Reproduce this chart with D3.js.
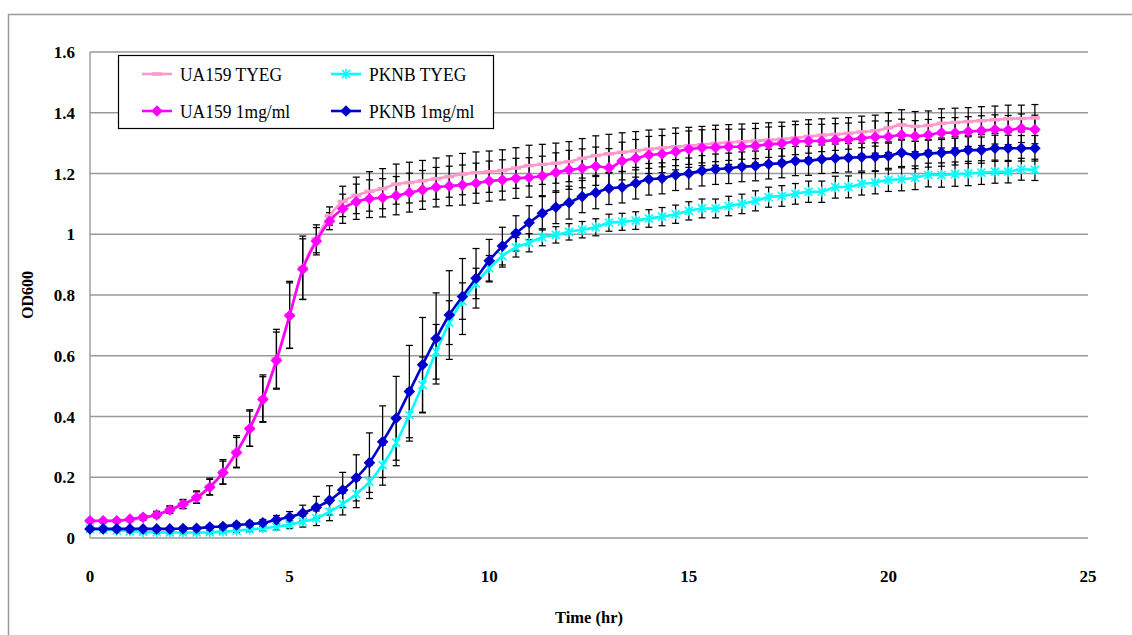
<!DOCTYPE html>
<html><head><meta charset="utf-8">
<script src="https://cdn.jsdelivr.net/npm/d3@7"></script>
<style>html,body{margin:0;padding:0;background:#fff;}svg{display:block;}text{font-family:"Liberation Serif",serif;}</style>
</head><body>
<svg id="c" width="1132" height="635"></svg>
<script>
const times = [0,0.33,0.67,1,1.33,1.67,2,2.33,2.67,3,3.33,3.67,4,4.33,4.67,5,5.33,5.67,6,6.33,6.67,7,7.33,7.67,8,8.33,8.67,9,9.33,9.67,10,10.33,10.67,11,11.33,11.67,12,12.33,12.67,13,13.33,13.67,14,14.33,14.67,15,15.33,15.67,16,16.33,16.67,17,17.33,17.67,18,18.33,18.67,19,19.33,19.67,20,20.33,20.67,21,21.33,21.67,22,22.33,22.67,23,23.33,23.67];

const seriesNames = ["UA159 TYEG","PKNB TYEG","UA159 1mg/ml","PKNB 1mg/ml"];

const ua159TYEG = [.055,.055,.056,.06,.067,.078,.094,.112,.135,.17,.218,.285,.362,.46,.59,.735,.89,.985,
1.06,1.108,1.128,1.141,1.15,1.165,1.17,1.176,1.183,1.19,1.198,1.203,1.206,1.21,1.218,1.226,1.23,1.234,1.239,1.25,1.259,1.265,1.27,1.275,1.28,1.284,1.288,1.291,1.295,1.299,1.302,1.305,1.307,1.31,1.313,1.317,1.322,1.326,1.329,1.332,1.337,1.341,1.35,1.36,1.355,1.358,1.365,1.368,1.371,1.374,1.377,1.38,1.381,1.383];

const pknbTYEG = [.03,.028,.025,.022,.02,.019,.018,.018,.018,.019,.021,.024,.028,.032,.037,.044,.054,.065,
.087,.112,.145,.185,.24,.314,.405,.504,.613,.709,.78,.838,.888,.928,.957,.972,.99,.998,1.008,1.015,1.023,1.038,1.041,1.045,1.052,1.058,1.066,1.077,1.085,1.085,1.093,1.1,1.11,1.122,1.126,1.133,1.14,1.14,1.155,1.156,1.166,1.17,1.179,1.181,1.186,1.195,1.195,1.198,1.2,1.203,1.206,1.206,1.214,1.212];

const ua159Drug = [.057,.057,.057,.062,.068,.076,.092,.111,.133,.167,.215,.281,.36,.456,.584,.732,.885,.977,
1.043,1.084,1.107,1.117,1.12,1.127,1.137,1.146,1.155,1.159,1.162,1.168,1.175,1.179,1.184,1.187,1.192,1.203,1.212,1.217,
1.224,1.219,1.241,1.25,1.261,1.264,1.272,1.28,1.285,1.286,1.288,1.288,1.291,1.296,1.299,1.305,1.307,1.307,1.31,1.312,1.316,1.32,1.321,1.327,1.323,1.327,1.334,1.334,1.338,1.341,1.345,1.343,1.349,1.345];

const pknbDrug = [.03,.03,.03,.03,.03,.03,.03,.031,.032,.036,.038,.043,.046,.05,.06,.069,.082,.101,.124,
.158,.198,.248,.317,.394,.482,.57,.657,.734,.795,.855,.913,.961,1.003,1.038,1.069,1.089,1.104,1.124,1.137,1.151,1.155,1.168,1.181,1.184,1.195,1.2,1.209,1.214,1.217,1.222,1.225,1.231,1.234,1.241,1.242,1.247,1.25,1.252,1.254,1.255,1.258,1.268,1.261,1.266,1.268,1.272,1.277,1.277,1.283,1.283,1.283,1.283];

const ua159TYEGErr = [.005,.005,.005,.006,.008,.01,
.012,.015,.02,.027,.04,.052,.06,.077,.097,.11,.104,.046,.03,.05,.06,.065,
.066,.066,.067,.067,.068,.068,.068,.068,.068,.068,.067,.067,.066,.066,.066,.065,.065,.064,.064,.063,.063,.062,.062,.061,
.06,.06,.059,.058,.058,.057,.056,.055,.055,.054,.053,.052,.052,.051,.05,.05,.049,.048,.048,.047,.046,.046,.045,.045,.044,.044];

const pknbTYEGErr = [.004,.004,.004,.004,.004,.004,.004,.004,.004,.005,.005,.006,.007,.008,.01,
.013,.018,.024,.03,.036,.045,.055,.066,.076,.086,.092,.09,.072,.06,.05,.042,.036,.032,.03,.028,
.027,.027,.027,.028,.028,.028,.029,.029,.03,.03,.03,.031,.031,.032,.032,.033,.033,.034,.034,.035,.035,.036,.036,.037,.037,.038,.038,.039,.039,.04,.04,.04,.039,.038,.037,.036,.035];

const ua159DrugErr = [.004,.004,.005,.005,.007,.009,
.011,.014,.019,.026,.038,.05,.058,.075,.094,.108,.1,.045,.028,.048,.058,.062,
.063,.063,.064,.064,.065,.065,.066,.066,.066,.066,.066,.065,.065,.065,.064,.064,.063,.063,.062,.062,.061,.061,.06,.06,
.059,.059,.058,.058,.057,.057,.056,.056,.055,.055,.054,.054,.053,.053,.052,.052,.051,.051,.05,.05,.049,.049,.048,.048,.047,.047];

const pknbDrugErr = [.004,.004,.004,.004,.004,.004,.004,.005,.005,.006,.007,.008,.009,
.011,.014,.018,.026,.036,.048,.058,.076,.098,.118,.138,.152,.156,.15,.146,.125,.098,.07,.062,.058,.056,.055,.054,
.054,.053,.053,.053,.052,.052,.052,.051,.051,.051,.05,.05,.05,.049,.049,.049,.048,.048,.048,.047,.047,.047,.046,.046,.046,.045,.045,.045,.044,.044,.044,.043,.043,.043,.042,.042];

const xTicks = [0,5,10,15,20,25];
const yTicks = [0,0.2,0.4,0.6,0.8,1,1.2,1.4,1.6];
const yTickLabels = ["0","0.2","0.4","0.6","0.8","1","1.2","1.4","1.6"];

const svg = d3.select("#c");
const L = 90, R = 1088, T = 52, B = 538;
const x = d3.scaleLinear().domain([0,25]).range([L,R]);
const y = d3.scaleLinear().domain([0,1.6]).range([B,T]);

// outer frame
svg.append("rect").attr("x",8.5).attr("y",14.5).attr("width",1140).attr("height",640)
  .attr("fill","none").attr("stroke","#9a9a9a").attr("stroke-width",1.5);

// gridlines
svg.append("g").selectAll("line").data(yTicks.filter(d=>d>0)).join("line")
  .attr("x1",L).attr("x2",R).attr("y1",d=>y(d)).attr("y2",d=>y(d))
  .attr("stroke","#999").attr("stroke-width",1.4);
svg.append("line").attr("x1",L).attr("x2",R).attr("y1",B).attr("y2",B).attr("stroke","#999").attr("stroke-width",1.4);
svg.append("line").attr("x1",L).attr("x2",L).attr("y1",T).attr("y2",B).attr("stroke","#999").attr("stroke-width",1.4);

// tick labels
svg.append("g").selectAll("text").data(yTicks).join("text")
  .attr("x",75).attr("y",d=>y(d)+6).attr("text-anchor","end")
  .attr("font-weight","bold").attr("font-size",17)
  .text((d,i)=>yTickLabels[i]);
svg.append("g").selectAll("text").data(xTicks).join("text")
  .attr("x",d=>x(d)).attr("y",582).attr("text-anchor","middle")
  .attr("font-weight","bold").attr("font-size",17)
  .text(d=>d);
svg.append("text").attr("x",(L+R)/2).attr("y",623).attr("text-anchor","middle")
  .attr("font-weight","bold").attr("font-size",16.5).text("Time (hr)");
svg.append("text").attr("transform",`translate(33,${(T+B)/2}) rotate(-90)`).attr("text-anchor","middle")
  .attr("font-weight","bold").attr("font-size",16).text("OD600");

const series = [
  {name:seriesNames[0], v:ua159TYEG, e:ua159TYEGErr, color:"#FF99CC", marker:"dash"},
  {name:seriesNames[1], v:pknbTYEG, e:pknbTYEGErr, color:"#00FFFF", marker:"star"},
  {name:seriesNames[2], v:ua159Drug, e:ua159DrugErr, color:"#FF00FF", marker:"diamond"},
  {name:seriesNames[3], v:pknbDrug, e:pknbDrugErr, color:"#0000CC", marker:"diamond"}
];

// error bars
const eg = svg.append("g").attr("stroke","#000").attr("stroke-width",1.25);
series.forEach(s=>{
  const pts = times.map((t,i)=>({t, v:s.v[i], e:s.e[i]}));
  const g = eg.append("g");
  g.selectAll("line.v").data(pts).join("line").attr("class","v")
    .attr("x1",d=>x(d.t)).attr("x2",d=>x(d.t)).attr("y1",d=>y(d.v+d.e)).attr("y2",d=>y(d.v-d.e));
  g.selectAll("line.t").data(pts).join("line").attr("class","t")
    .attr("x1",d=>x(d.t)-3.5).attr("x2",d=>x(d.t)+3.5).attr("y1",d=>y(d.v+d.e)).attr("y2",d=>y(d.v+d.e));
  g.selectAll("line.b").data(pts).join("line").attr("class","b")
    .attr("x1",d=>x(d.t)-3.5).attr("x2",d=>x(d.t)+3.5).attr("y1",d=>y(d.v-d.e)).attr("y2",d=>y(d.v-d.e));
});

function drawMarker(g, type, color, cx, cy){
  if(type==="diamond"){
    g.append("path").attr("d",`M${cx},${cy-5.8}L${cx+5.8},${cy}L${cx},${cy+5.8}L${cx-5.8},${cy}Z`).attr("fill",color);
  } else if(type==="star"){
    const r=4;
    g.append("path").attr("d",`M${cx-r},${cy-r}L${cx+r},${cy+r}M${cx-r},${cy+r}L${cx+r},${cy-r}M${cx},${cy-r-1}L${cx},${cy+r+1}`)
      .attr("stroke",color).attr("stroke-width",1.6).attr("fill","none");
  } else {
    g.append("path").attr("d",`M${cx-5},${cy}L${cx+5},${cy}`).attr("stroke",color).attr("stroke-width",3.5);
  }
}

const line = d3.line().x(d=>x(d[0])).y(d=>y(d[1])).curve(d3.curveMonotoneX);
series.forEach(s=>{
  const g = svg.append("g");
  g.append("path").attr("d",line(times.map((t,i)=>[t,s.v[i]])))
    .attr("fill","none").attr("stroke",s.color).attr("stroke-width",2.6);
  times.forEach((t,i)=>drawMarker(g, s.marker, s.color, x(t), y(s.v[i])));
});

// legend
const lg = svg.append("g");
lg.append("rect").attr("x",118.5).attr("y",55.5).attr("width",375).attr("height",73)
  .attr("fill","#fff").attr("stroke","#000").attr("stroke-width",1.2);
const pos = [[142,74],[331,74],[142,111],[331,111]];
series.forEach((s,i)=>{
  const [lx,ly]=pos[i];
  lg.append("line").attr("x1",lx).attr("x2",lx+30).attr("y1",ly).attr("y2",ly).attr("stroke",s.color).attr("stroke-width",2.6);
  drawMarker(lg, s.marker, s.color, lx+15, ly);
  lg.append("text").attr("x",lx+38).attr("y",ly+7).attr("font-size",19)
    .attr("transform",`translate(${lx+38},0) scale(0.92,1) translate(${-(lx+38)},0)`)
    .text(s.name);
});
</script>
</body></html>
